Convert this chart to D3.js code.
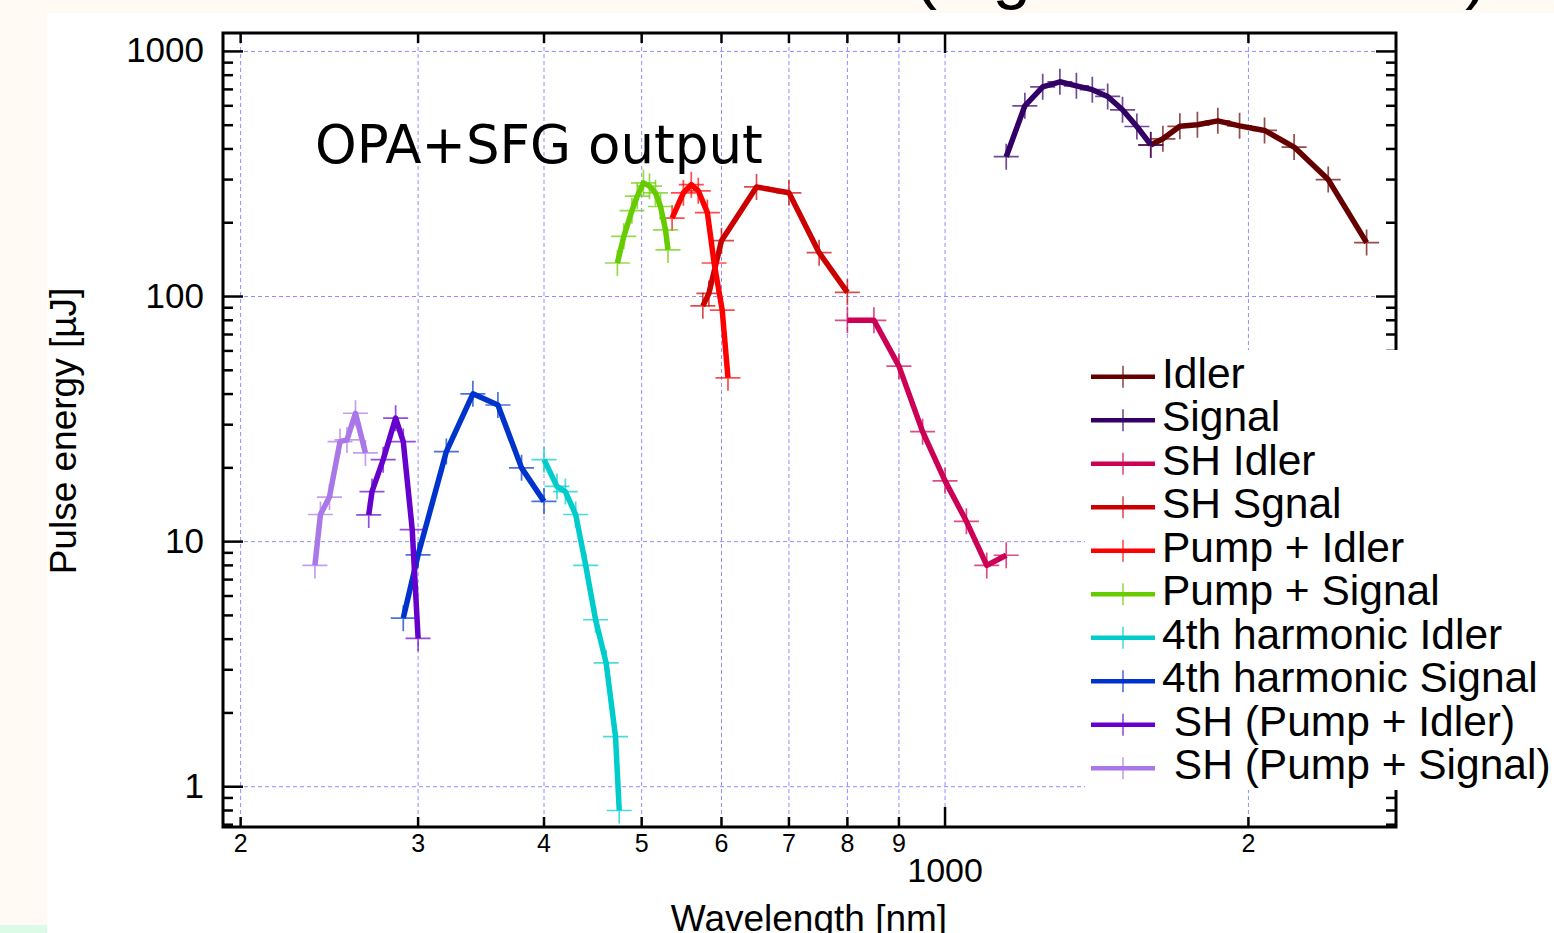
<!DOCTYPE html>
<html>
<head>
<meta charset="utf-8">
<script src="https://cdn.jsdelivr.net/npm/d3@7"></script>
<style>
  html, body { margin: 0; padding: 0; background: #fffaf3; }
  svg { display: block; }
  text { font-family: "Liberation Sans", Arial, Helvetica, sans-serif; }
</style>
</head>
<body>
<svg id="chart" width="1554" height="933"></svg>
<script>
// ---------------- data ----------------
const seriesNames = ["Idler", "Signal", "SH Idler", "SH Sgnal", "Pump + Idler", "Pump + Signal",
  "4th harmonic Idler", "4th harmonic Signal", " SH (Pump + Idler)", " SH (Pump + Signal)"];
const seriesColors = ["#660000", "#330066", "#cc0055", "#cc0000", "#ff0000", "#66cc00",
  "#00cccc", "#0033cc", "#6600cc", "#aa77e8"];

const idlerX = [1600, 1645, 1710, 1780, 1865, 1960, 2075, 2220, 2400, 2620];
const idlerY = [415, 440, 495, 502, 521, 497, 476, 407, 300, 166];
const signalX = [1150, 1200, 1250, 1300, 1350, 1400, 1450, 1500, 1550, 1600];
const signalY = [372, 600, 717, 752, 724, 698, 655, 578, 494, 416];
const shIdlerX = [800, 850, 900, 950, 1000, 1050, 1100, 1150];
const shIdlerY = [80, 80, 52, 28.1, 17.7, 12.1, 8.0, 8.8];
const shSignalX = [575, 583, 600, 650, 700, 750, 800];
const shSignalY = [91.6, 103, 169, 280, 265, 151, 104];
const pumpIdlerX = [536, 550, 560, 569, 581, 590, 601, 609];
const pumpIdlerY = [209, 265, 286, 270, 220, 137, 88, 46.6];
const pumpSignalX = [473, 480, 489, 495, 502, 509, 516, 522, 528, 531];
const pumpSignalY = [137, 176, 224, 257, 291, 282, 265, 233, 187, 155];
const fhIdlerX = [400, 412, 420, 430, 440, 450, 461, 471, 475];
const fhIdlerY = [21.6, 16.8, 16.0, 12.9, 8.0, 4.8, 3.2, 1.6, 0.8];
const fhSignalX = [290, 300, 320, 340, 360, 380, 400];
const fhSignalY = [4.87, 8.83, 23.3, 40.1, 36.1, 20.0, 14.6];
const shPumpIdlerX = [268, 270, 277, 285, 290, 296, 300];
const shPumpIdlerY = [12.85, 16.0, 21.6, 31.9, 25.6, 11.2, 4.03];
const shPumpSignalX = [237, 240, 245, 251, 255, 260, 266];
const shPumpSignalY = [8.0, 12.9, 15.2, 25.6, 26, 33.4, 23];

const seriesX = [idlerX, signalX, shIdlerX, shSignalX, pumpIdlerX, pumpSignalX, fhIdlerX, fhSignalX, shPumpIdlerX, shPumpSignalX];
const seriesY = [idlerY, signalY, shIdlerY, shSignalY, pumpIdlerY, pumpSignalY, fhIdlerY, fhSignalY, shPumpIdlerY, shPumpSignalY];

const xTickValues = [200, 300, 400, 500, 600, 700, 800, 900, 1000, 2000];
const xTickLabels = ["2", "3", "4", "5", "6", "7", "8", "9", "", "2"];
const xDecadeLabel = "1000";
const yTickValues = [1, 10, 100, 1000];
const yTickLabels = ["1", "10", "100", "1000"];
const yMinorValues = [0.7, 0.8, 0.9, 2, 3, 4, 5, 6, 7, 8, 9, 20, 30, 40, 50, 60, 70, 80, 90, 200, 300, 400, 500, 600, 700, 800, 900];
const xLabel = "Wavelength [nm]";
const yLabel = "Pulse energy [µJ]";
const annotation = "OPA+SFG output";
const titleText = "(Light Conversion)";

// ---------------- layout ----------------
const svg = d3.select("#chart");
const L = 223, R = 1396, T = 33, B = 827;
const x = d3.scaleLog().domain([192.1, 2802]).range([L, R]);
const y = d3.scaleLog().domain([0.685, 1189]).range([B, T]);

// page background pieces
svg.append("rect").attr("x", 0).attr("y", 0).attr("width", 1554).attr("height", 933).attr("fill", "#fffaf3");
svg.append("text").attr("x", 914).attr("y", -4)
  .style("font-size", "69px").style("letter-spacing", "0.6px").attr("fill", "#000").text(titleText);
svg.append("rect").attr("x", 47).attr("y", 13).attr("width", 1507).attr("height", 920).attr("fill", "#ffffff");
svg.append("rect").attr("x", 0).attr("y", 925).attr("width", 47).attr("height", 8).attr("fill", "#dcfbe6");

// grid
const grid = svg.append("g").attr("stroke", "#8e8eff").attr("stroke-width", 1).attr("stroke-dasharray", "4,3");
xTickValues.forEach(v => {
  grid.append("line").attr("x1", x(v)).attr("x2", x(v)).attr("y1", T).attr("y2", B);
});
yTickValues.forEach(v => {
  grid.append("line").attr("x1", L).attr("x2", R).attr("y1", y(v)).attr("y2", y(v));
});

// data
const line = d3.line().x(d => x(d[0])).y(d => y(d[1]));
const dataG = svg.append("g");
seriesNames.forEach((name, i) => {
  const pts = seriesX[i].map((v, k) => [v, seriesY[i][k]]);
  const g = dataG.append("g");
  g.selectAll("path.cross").data(pts).enter().append("path")
    .attr("d", d => `M${x(d[0]) - 12.5},${y(d[1])}H${x(d[0]) + 12.5}M${x(d[0])},${y(d[1]) - 13}V${y(d[1]) + 13}`)
    .attr("stroke", seriesColors[i]).attr("stroke-opacity", 0.7).attr("stroke-width", 1.7).attr("fill", "none");
  g.append("path").datum(pts).attr("d", line)
    .attr("fill", "none").attr("stroke", seriesColors[i]).attr("stroke-width", 5.5)
    .attr("stroke-linejoin", "round").attr("stroke-linecap", "butt");
});

// axes frame and ticks
const ax = svg.append("g").attr("stroke", "#000").attr("fill", "none");
ax.append("rect").attr("x", L).attr("y", T).attr("width", R - L).attr("height", B - T).attr("stroke-width", 3);
xTickValues.forEach(v => {
  const len = v === 1000 ? 20 : 10;
  ax.append("line").attr("x1", x(v)).attr("x2", x(v)).attr("y1", B).attr("y2", B - len).attr("stroke-width", 2.5);
  ax.append("line").attr("x1", x(v)).attr("x2", x(v)).attr("y1", T).attr("y2", T + len).attr("stroke-width", 2.5);
});
yTickValues.forEach(v => {
  ax.append("line").attr("x1", L).attr("x2", L + 20).attr("y1", y(v)).attr("y2", y(v)).attr("stroke-width", 2.5);
  ax.append("line").attr("x1", R).attr("x2", R - 20).attr("y1", y(v)).attr("y2", y(v)).attr("stroke-width", 2.5);
});
yMinorValues.forEach(v => {
  ax.append("line").attr("x1", L).attr("x2", L + 10).attr("y1", y(v)).attr("y2", y(v)).attr("stroke-width", 2.5);
  ax.append("line").attr("x1", R).attr("x2", R - 10).attr("y1", y(v)).attr("y2", y(v)).attr("stroke-width", 2.5);
});

// tick labels
const labels = svg.append("g").attr("fill", "#000");
xTickValues.forEach((v, i) => {
  labels.append("text").attr("x", x(v)).attr("y", 852).attr("text-anchor", "middle")
    .style("font-size", "25px").text(xTickLabels[i]);
});
labels.append("text").attr("x", x(1000)).attr("y", 882).attr("text-anchor", "middle")
  .style("font-size", "34px").text(xDecadeLabel);
yTickValues.forEach((v, i) => {
  labels.append("text").attr("x", 204).attr("y", y(v) + 11).attr("text-anchor", "end")
    .style("font-size", "35px").text(yTickLabels[i]);
});
labels.append("text").attr("x", 809).attr("y", 931).attr("text-anchor", "middle")
  .style("font-size", "37px").text(xLabel);
labels.append("text").attr("transform", "translate(76,431) rotate(-90)").attr("text-anchor", "middle")
  .style("font-size", "37px").text(yLabel);
svg.append("text").attr("x", 315).attr("y", 163)
  .style("font-family", "'DejaVu Sans', Verdana, sans-serif").style("font-size", "53px")
  .attr("fill", "#000").text(annotation);

// legend
const leg = svg.append("g");
leg.append("rect").attr("x", 1085).attr("y", 350).attr("width", 469).attr("height", 440).attr("fill", "#ffffff");
seriesNames.forEach((name, i) => {
  const ry = 376.7 + i * 43.5;
  leg.append("line").attr("x1", 1091).attr("x2", 1155).attr("y1", ry).attr("y2", ry)
    .attr("stroke", seriesColors[i]).attr("stroke-width", 4.5);
  leg.append("line").attr("x1", 1123).attr("x2", 1123).attr("y1", ry - 11).attr("y2", ry + 11)
    .attr("stroke", seriesColors[i]).attr("stroke-opacity", 0.7).attr("stroke-width", 1.6);
  leg.append("text").attr("x", 1162).attr("y", ry + 11).style("font-size", "42.5px")
    .style("white-space", "pre").attr("fill", "#000").text(name);
});
</script>
</body>
</html>
